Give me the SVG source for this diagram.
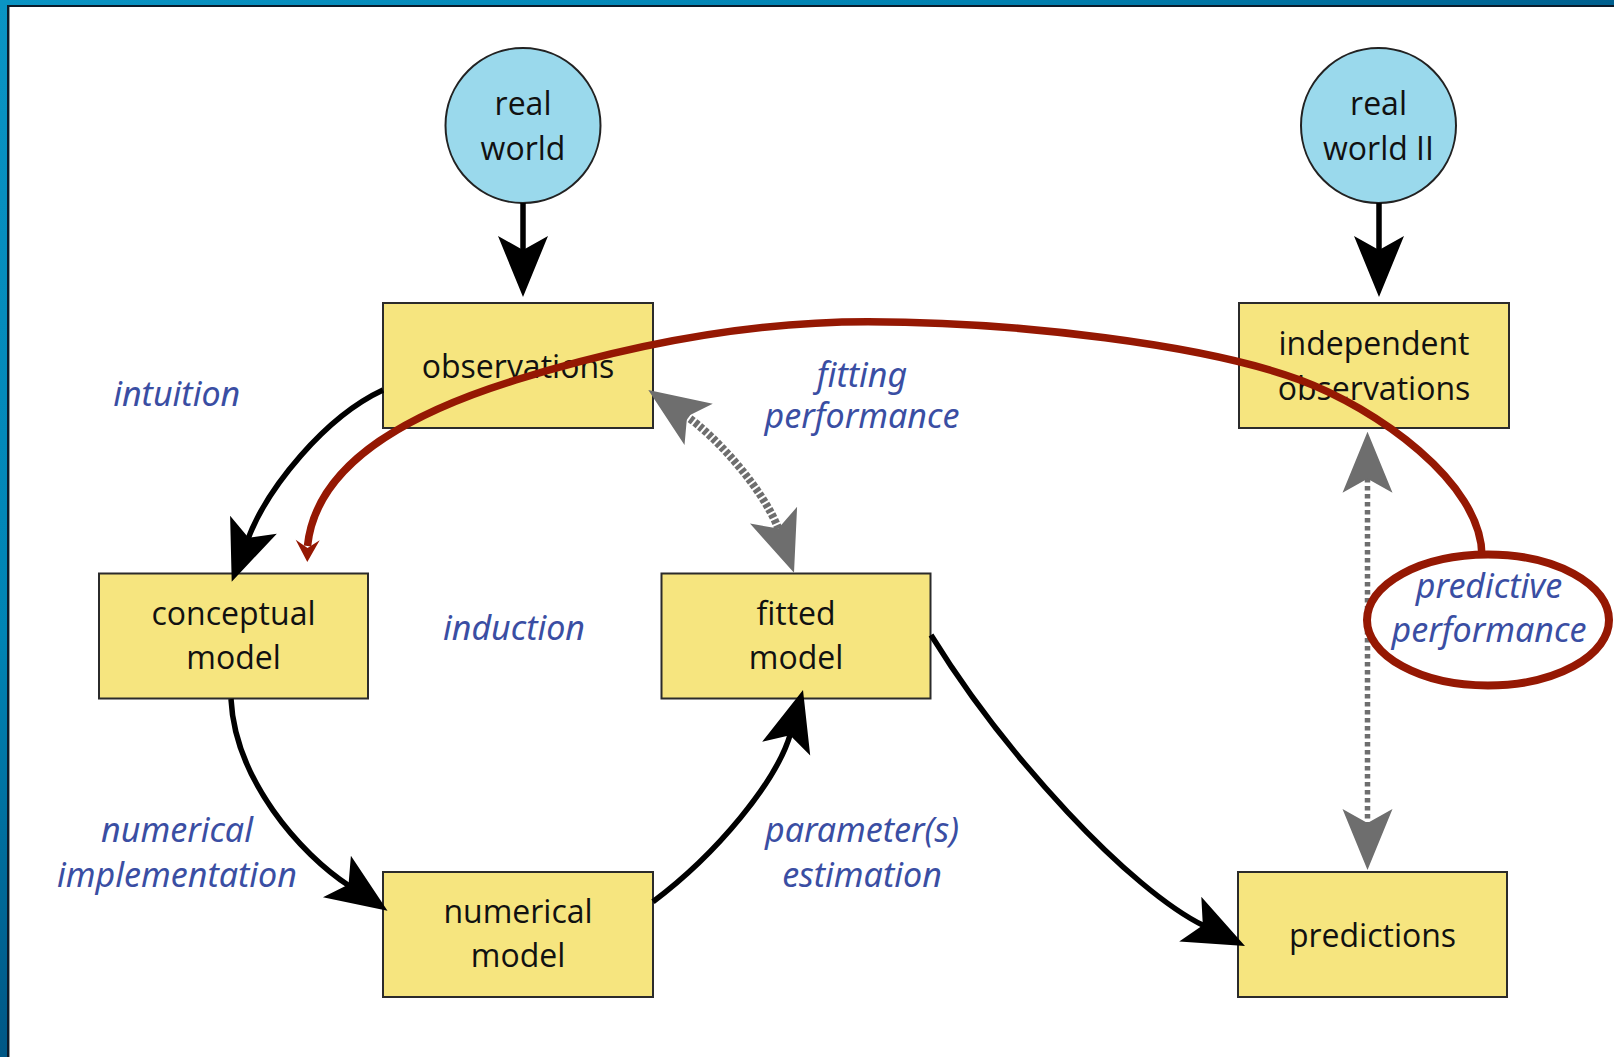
<svg xmlns="http://www.w3.org/2000/svg" xmlns:xlink="http://www.w3.org/1999/xlink" width="1614" height="1057" viewBox="0 0 1614 1057">
  <defs>
    <linearGradient id="topGrad" x1="0" y1="0" x2="1" y2="0">
      <stop offset="0" stop-color="#0a94c4"/>
      <stop offset="0.6" stop-color="#0082b2"/>
      <stop offset="1" stop-color="#00608f"/>
    </linearGradient>
    <linearGradient id="leftGrad" x1="0" y1="0" x2="0" y2="1">
      <stop offset="0" stop-color="#0a94c4"/>
      <stop offset="0.6" stop-color="#0084b4"/>
      <stop offset="1" stop-color="#005785"/>
    </linearGradient>
    <path id="headB" d="M0,0 L-61,-25 L-47,0 L-61,25 Z"/>
    <path id="headR" d="M0,0 L-22,-12 L-14,0 L-22,12 Z"/>
    <style>
      .box { fill: #f6e57f; stroke: #2b2b2b; stroke-width: 2; }
      .circ { fill: #9ad9ec; stroke: #222222; stroke-width: 2; }
      .nt { font-family: "Open Sans", "Noto Sans", "DejaVu Sans", sans-serif; font-size: 32px; fill: #111111; text-anchor: middle; }
      .lt { font-family: "Noto Sans", "Open Sans", "DejaVu Sans", sans-serif; font-size: 34px; font-style: italic; fill: #3a4ea3; text-anchor: middle; }
      .blk { fill: none; stroke: #000000; stroke-width: 5.5; }
      .hb { fill: #000000; }
      .hg { fill: #6e6e6e; }
      .gdash { fill: none; stroke: #6e6e6e; stroke-width: 8; stroke-dasharray: 4 2; }
      .gdot { fill: none; stroke: #6e6e6e; stroke-width: 5.5; stroke-dasharray: 4.5 3.5; }
      .red { fill: none; stroke: #951803; stroke-width: 7.5; }
      .hr { fill: #951803; }
    </style>
  </defs>

  <!-- frame -->
  <rect x="0" y="0" width="1614" height="1057" fill="url(#leftGrad)"/>
  <rect x="0" y="0" width="1614" height="7" fill="url(#topGrad)"/>
  <rect x="7" y="5" width="1607" height="1052" fill="#0b1b2b"/>
  <rect x="9" y="7" width="1605" height="1050" fill="#ffffff"/>
  <line x1="9.5" y1="7" x2="9.5" y2="1057" stroke="#9a9a9a" stroke-width="1"/>

  <!-- nodes -->
  <g id="real-world">
    <circle class="circ" cx="523" cy="125.5" r="77.5"/>
    <text class="nt" x="523" y="115">real</text>
    <text class="nt" x="523" y="159.5">world</text>
  </g>
  <g id="real-world-II">
    <circle class="circ" cx="1378.5" cy="125.5" r="77.5"/>
    <text class="nt" x="1378.5" y="115">real</text>
    <text class="nt" x="1378.5" y="159.5">world II</text>
  </g>
  <g id="observations">
    <rect class="box" x="383" y="303" width="270" height="125"/>
    <text class="nt" x="518" y="377.5">observations</text>
  </g>
  <g id="independent-observations">
    <rect class="box" x="1239" y="303" width="270" height="125"/>
    <text class="nt" x="1374" y="355">independent</text>
    <text class="nt" x="1374" y="400">observations</text>
  </g>
  <g id="conceptual-model">
    <rect class="box" x="99" y="573.5" width="269" height="125"/>
    <text class="nt" x="233.5" y="625">conceptual</text>
    <text class="nt" x="233.5" y="669">model</text>
  </g>
  <g id="fitted-model">
    <rect class="box" x="661.5" y="573.5" width="269" height="125"/>
    <text class="nt" x="796" y="625">fitted</text>
    <text class="nt" x="796" y="669">model</text>
  </g>
  <g id="numerical-model">
    <rect class="box" x="383" y="872" width="270" height="125"/>
    <text class="nt" x="518" y="922.5">numerical</text>
    <text class="nt" x="518" y="966.5">model</text>
  </g>
  <g id="predictions">
    <rect class="box" x="1238" y="872" width="269" height="125"/>
    <text class="nt" x="1372.5" y="946.5">predictions</text>
  </g>

  <!-- connectors -->
  <g id="connectors">
    <!-- real world -> observations -->
    <path class="blk" d="M523,203 L523,256"/>
    <use href="#headB" class="hb" transform="translate(523,297) rotate(90)"/>
    <!-- real world II -> independent observations -->
    <path class="blk" d="M1379,203 L1379,256"/>
    <use href="#headB" class="hb" transform="translate(1379,297) rotate(90)"/>
    <!-- observations -> conceptual model -->
    <path class="blk" d="M383,390 C325,417 267,488 247.7,539.7"/>
    <use href="#headB" class="hb" transform="translate(231.7,581.7) rotate(110.9)"/>
    <!-- conceptual model -> numerical model -->
    <path class="blk" d="M231,699 C235,779 299.5,853.5 349.8,886.2"/>
    <use href="#headB" class="hb" transform="translate(387.5,910.7) rotate(34)"/>
    <!-- numerical model -> fitted model -->
    <path class="blk" d="M653,901.7 C717,853.7 776.8,781.3 790.6,733.2"/>
    <use href="#headB" class="hb" transform="translate(803,690) rotate(-74)"/>
    <!-- fitted model -> predictions -->
    <path class="blk" d="M931,635 C1005,755 1130,890 1204.6,926.1"/>
    <use href="#headB" class="hb" transform="translate(1245,946) rotate(26.2)"/>

    <!-- fitting performance (observations <-> fitted model) -->
    <path class="gdash" d="M685.4,415.4 C718.4,438 765.5,492.6 778.9,530.3"/>
    <use href="#headB" class="hg" transform="translate(648.3,390) rotate(-145.6)"/>
    <use href="#headB" class="hg" transform="translate(794,572.7) rotate(70.4)"/>

    <!-- predictive performance (independent observations <-> predictions) -->
    <path class="gdot" d="M1367.5,478 L1367.5,824"/>
    <use href="#headB" class="hg" transform="translate(1367.5,431.7) rotate(-90)"/>
    <use href="#headB" class="hg" transform="translate(1367.5,870) rotate(90)"/>

    <!-- red feedback arc: predictive performance -> conceptual model -->
    <path class="red" d="M1482,556 C1482,482 1375,407.8 1300,380 C1206.3,345.2 1018,321.7 868,321.7 C748,321.7 630.4,344.6 515.8,380 C420.3,409.5 316.5,458.4 307.5,546"/>
    <use href="#headR" class="hr" transform="translate(307.3,562) rotate(91)"/>
  </g>

  <!-- predictive performance annotation -->
  <g id="predictive-performance">
    <ellipse cx="1488" cy="620" rx="121" ry="65.5" fill="none" stroke="#951803" stroke-width="8"/>
    <text class="lt" x="1489" y="598.3">predictive</text>
    <text class="lt" x="1489" y="641.7">performance</text>
  </g>

  <!-- edge labels -->
  <g id="labels">
    <text class="lt" x="176.7" y="405.7">intuition</text>
    <text class="lt" x="862" y="386.7">fitting</text>
    <text class="lt" x="862" y="428.3">performance</text>
    <text class="lt" x="514" y="640">induction</text>
    <text class="lt" x="177" y="841.7">numerical</text>
    <text class="lt" x="177" y="886.7">implementation</text>
    <text class="lt" x="862" y="841.7">parameter(s)</text>
    <text class="lt" x="862" y="886.7">estimation</text>
  </g>
</svg>
